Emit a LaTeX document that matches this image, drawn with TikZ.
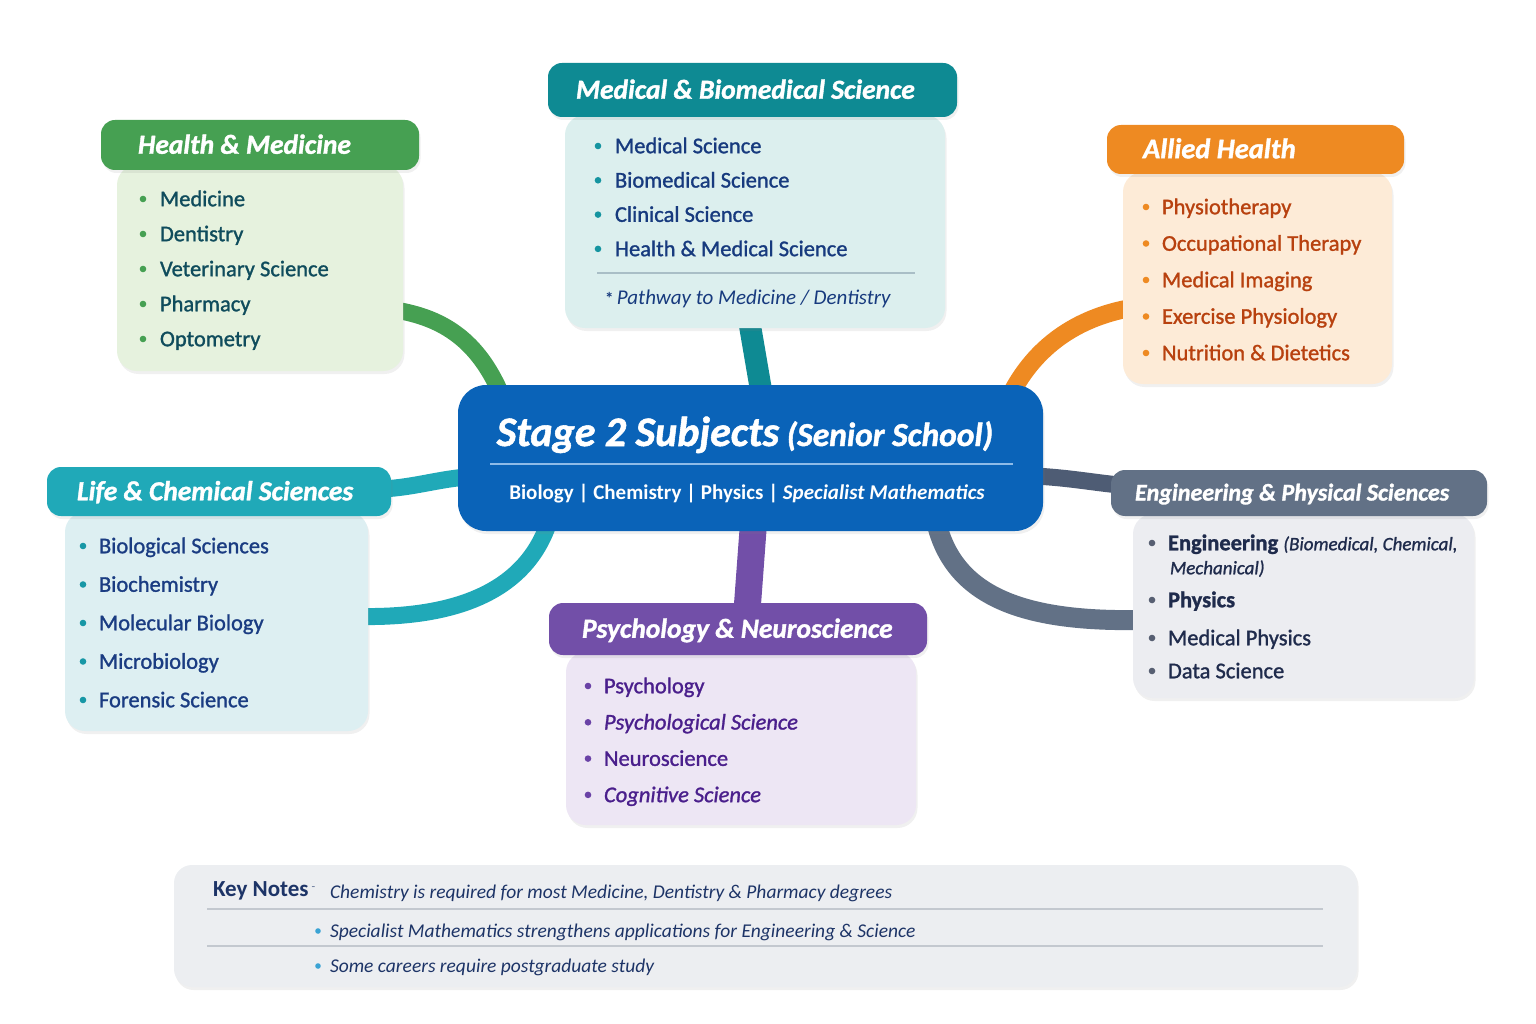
\documentclass[tikz,border=0pt]{standalone}
\usepackage{fontspec}
\setmainfont{Carlito}
\newfontfamily\medfam{Carlito}[FakeBold=1.2,ItalicFeatures={FakeBold=1.2}]
\newfontfamily\heavyfam{Carlito}[BoldItalicFeatures={FakeBold=1.3}]
\usetikzlibrary{calc,positioning,backgrounds,shadows}
\definecolor{hmhead}{HTML}{46A052}
\definecolor{hmfill}{HTML}{E6F2DE}
\definecolor{hmtext}{HTML}{0F4C5C}
\definecolor{mbhead}{HTML}{0E8A93}
\definecolor{mbfill}{HTML}{DCEFEE}
\definecolor{mbtext}{HTML}{173A7E}
\definecolor{mbdot}{HTML}{1594A0}
\definecolor{mbline}{HTML}{A9BEC6}
\definecolor{ahhead}{HTML}{EE8A22}
\definecolor{ahfill}{HTML}{FDEBD7}
\definecolor{ahtext}{HTML}{B8410F}
\definecolor{lchead}{HTML}{20A9B8}
\definecolor{lcfill}{HTML}{DDEFF2}
\definecolor{lctext}{HTML}{1A3C82}
\definecolor{lcdot}{HTML}{1797A6}
\definecolor{ephead}{HTML}{627186}
\definecolor{epfill}{HTML}{ECEDF1}
\definecolor{eptext}{HTML}{1F2B4C}
\definecolor{epdot}{HTML}{575F72}
\definecolor{eplink}{HTML}{4E5C74}
\definecolor{pnhead}{HTML}{724FA8}
\definecolor{pnfill}{HTML}{EDE6F4}
\definecolor{pntext}{HTML}{4A1F8C}
\definecolor{pndot}{HTML}{6A42A6}
\definecolor{stagefill}{HTML}{0A63B8}
\definecolor{stageline}{HTML}{8EBBE8}
\definecolor{notefill}{HTML}{ECEEF1}
\definecolor{notetext}{HTML}{1D3467}
\definecolor{noteline}{HTML}{C3C8CF}
\definecolor{notedot}{HTML}{3BA3D4}
\newcommand{\hdfont}{\heavyfam\fontsize{27.5}{30}\selectfont\bfseries\itshape}
\newcommand{\listfont}{\medfam\fontsize{22.5}{26}\selectfont}
\newcommand{\notefont}{\fontsize{19.5}{24}\selectfont\itshape}
\tikzset{
 every node/.append style={inner sep=0pt,outer sep=0pt},
 shade box/.style={drop shadow={opacity=.12,shadow xshift=1.5pt,shadow yshift=-3pt}},
 body/.style={anchor=north west,rounded corners=20pt,shade box},
 head/.style={anchor=north west,rounded corners=14pt,shade box},
 htitle/.style={anchor=west,text=white,font=\hdfont,text height=17.5pt,text depth=0pt},
 item/.style={anchor=west,font=\listfont,text height=14.5pt,text depth=0pt},
 note/.style={anchor=west,font=\notefont,text=notetext,text height=12.5pt,text depth=0pt},
 band/.style={line width=17pt,line cap=butt},
 rule/.style={line width=1.6pt},
}

\begin{document}
\begin{tikzpicture}[x=1pt,y=-1pt]

\useasboundingbox (0,0) rectangle (1536,1024);
% centre
\node[anchor=north west,rounded corners=28pt,fill=stagefill,minimum width=585pt,minimum height=146pt,shade box] (stage) at (458,385) {};
\node[anchor=base,text=white,font=\heavyfam\fontsize{42}{46}\selectfont\bfseries\itshape] (stage-title) at (745,446) {Stage 2 Subjects\hspace{-2pt} {\fontsize{33.5}{36}\selectfont(Senior School)}};
\draw[rule,draw=stageline] (490,464) -- (1013,464);
\node[anchor=base,text=white,font=\fontsize{21}{24}\selectfont\bfseries] (stage-sub) at (747,499) {Biology | Chemistry | Physics | \textit{Specialist Mathematics}};

% health & medicine
\node[body,fill=hmfill,minimum width=286pt,minimum height=206pt] (hm-body) at (117,165) {};
\node[head,fill=hmhead,minimum width=318pt,minimum height=50pt] (hm-head) at (101,120) {};
\node[htitle] (hm-title) at ([xshift=37pt]hm-head.west) {Health \& Medicine};
\foreach \t [count=\i] in {Medicine,Dentistry,Veterinary Science,Pharmacy,Optometry}{
  \fill[hmhead] (143,164+35*\i) circle (3.3pt);
  \node[item,text=hmtext] (hm-\i) at (160,164+35*\i) {\t};
}

% medical & biomedical science
\node[body,fill=mbfill,minimum width=380pt,minimum height=213pt] (mb-body) at (565,115) {};
\node[head,fill=mbhead,minimum width=409pt,minimum height=54pt] (mb-head) at (548,63) {};
\node[htitle] (mb-title) at ([xshift=28pt]mb-head.west) {Medical \& Biomedical Science};
\foreach \t [count=\i] in {Medical Science,Biomedical Science,Clinical Science,Health \& Medical Science}{
  \fill[mbdot] (598,111.7+34.3*\i) circle (3.3pt);
  \node[item,text=mbtext] (mb-\i) at (615,111.7+34.3*\i) {\t};
}
\draw[rule,draw=mbline] (597,273) -- (915,273);
\node[note,text=mbtext,font=\fontsize{21}{24}\selectfont\itshape] (mb-note) at (605,298) {{\upshape\bfseries\fontsize{17}{18}\selectfont*}\,Pathway to Medicine / Dentistry};

% allied health
\node[body,fill=ahfill,minimum width=269pt,minimum height=212pt] (ah-body) at (1123,172) {};
\node[head,fill=ahhead,minimum width=297pt,minimum height=49pt] (ah-head) at (1107,125) {};
\node[htitle,font=\heavyfam\fontsize{28.5}{30}\selectfont\bfseries\itshape] (ah-title) at ([xshift=36pt]ah-head.west) {Allied Health};
\foreach \t [count=\i] in {Physiotherapy,Occupational Therapy,Medical Imaging,Exercise Physiology,Nutrition \& Dietetics}{
  \fill[ahhead] (1146,170.5+36.5*\i) circle (3.3pt);
  \node[item,text=ahtext] (ah-\i) at (1162,170.5+36.5*\i) {\t};
}

% life & chemical sciences
\node[body,fill=lcfill,minimum width=303pt,minimum height=219pt] (lc-body) at (65,512) {};
\node[head,fill=lchead,minimum width=344pt,minimum height=49pt] (lc-head) at (47,467) {};
\node[htitle] (lc-title) at ([xshift=30pt]lc-head.west) {Life \& Chemical Sciences};
\foreach \t [count=\i] in {Biological Sciences,Biochemistry,Molecular Biology,Microbiology,Forensic Science}{
  \fill[lcdot] (83,507.5+38.5*\i) circle (3.3pt);
  \node[item,text=lctext] (lc-\i) at (99,507.5+38.5*\i) {\t};
}

% engineering & physical sciences
\node[body,fill=epfill,minimum width=341pt,minimum height=184pt] (ep-body) at (1133,514) {};
\node[head,fill=ephead,minimum width=376pt,minimum height=46pt] (ep-head) at (1111,470) {};
\node[htitle,font=\heavyfam\fontsize{24}{28}\selectfont\bfseries\itshape,text height=15pt] (ep-title) at ([xshift=24pt]ep-head.west) {Engineering \& Physical Sciences};
\foreach \y in {543,600,638,671} \fill[epdot] (1152,\y) circle (3.3pt);
\node[item,text=eptext] (ep-1) at (1168,543) {\textbf{Engineering} {\fontsize{19}{22}\selectfont\itshape(Biomedical, Chemical,}};
\node[item,text=eptext,font=\medfam\fontsize{19}{22}\selectfont\itshape] (ep-1b) at (1170,567) {Mechanical)};
\node[item,text=eptext] (ep-2) at (1168,600) {\textbf{Physics}};
\node[item,text=eptext] (ep-3) at (1168,638) {Medical Physics};
\node[item,text=eptext] (ep-4) at (1168,671) {Data Science};

% psychology & neuroscience
\node[body,fill=pnfill,minimum width=350pt,minimum height=173pt] (pn-body) at (566,652) {};
\node[head,fill=pnhead,minimum width=378pt,minimum height=52pt] (pn-head) at (549,603) {};
\node[htitle] (pn-title) at ([xshift=33pt]pn-head.west) {Psychology \& Neuroscience};
\foreach \t [count=\i] in {Psychology,\textit{Psychological Science},Neuroscience,\textit{Cognitive Science}}{
  \fill[pndot] (588,649.7+36.3*\i) circle (3.3pt);
  \node[item,text=pntext] (pn-\i) at (604,649.7+36.3*\i) {\t};
}

% key notes
\node[anchor=north west,rounded corners=18pt,fill=notefill,minimum width=1183pt,minimum height=122pt,shade box] (notes) at (174,865) {};
\node[anchor=west,font=\fontsize{23}{26}\selectfont\bfseries,text=notetext,text height=14.5pt,text depth=0pt] (key) at (213,889) {Key Notes};
\node[right=3pt of key,font=\fontsize{12}{14}\selectfont,text=notetext!70] (key-mark) {-};
\node[note] (note-1) at (330,892) {Chemistry is required for most Medicine, Dentistry \& Pharmacy degrees};
\draw[rule,draw=noteline] (207,909) -- (1323,909);
\fill[notedot] (318,931) circle (2.8pt);
\node[note] (note-2) at (330,931) {Specialist Mathematics strengthens applications for Engineering \& Science};
\draw[rule,draw=noteline] (207,946) -- (1323,946);
\fill[notedot] (318,966) circle (2.8pt);
\node[note] (note-3) at (330,966) {Some careers require postgraduate study};

% links
\begin{scope}[on background layer]
\draw[band,draw=hmhead] ([xshift=-8pt,yshift=-42pt]hm-body.east) .. controls (445,318) and (478,342) .. ([xshift=-250pt,yshift=-8pt]stage.north);
\draw[band,draw=mbhead,line width=22pt] ([xshift=-6pt,yshift=8pt]mb-body.south) -- ([xshift=11pt,yshift=-8pt]stage.north);
\draw[band,draw=ahhead,line width=18pt] ([xshift=8pt,yshift=-30pt]ah-body.west) .. controls (1075,318) and (1035,348) .. ([xshift=261pt,yshift=-8pt]stage.north);
\draw[band,draw=lchead] ([xshift=-8pt,yshift=2.5pt]lc-head.east) .. controls (415,487) and (435,480) .. ([xshift=8pt,yshift=-19pt]stage.west);
\draw[band,draw=lchead] ([xshift=-8pt,yshift=5pt]lc-body.east) .. controls (455,618) and (525,592) .. ([xshift=-202pt,yshift=8pt]stage.south);
\draw[band,draw=pnhead,line width=27pt] ([xshift=3pt,yshift=8pt]stage.south) -- ([xshift=9pt,yshift=-8pt]pn-head.north);
\draw[band,draw=eplink] ([xshift=-8pt,yshift=-18pt]stage.east) .. controls (1070,478) and (1090,482) .. ([xshift=8pt,yshift=8pt]ep-head.west);
\draw[band,draw=ephead,line width=20pt] ([xshift=186pt,yshift=8pt]stage.south) .. controls (955,600) and (1030,622) .. ([xshift=8pt,yshift=-14pt]ep-body.west);
\end{scope}

\end{tikzpicture}
\end{document}
